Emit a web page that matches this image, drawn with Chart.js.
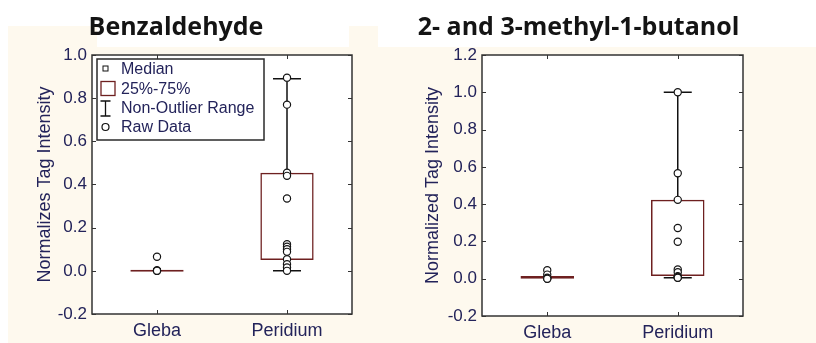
<!DOCTYPE html>
<html>
<head>
<meta charset="utf-8">
<script src="https://cdn.jsdelivr.net/npm/chart.js"></script>
<style>
  body { margin: 0; background: #fff; width: 816px; height: 343px; overflow: hidden; position: relative; }
  .cream { position: absolute; background: #fef9ee; }
  canvas { position: absolute; top: 0; }
</style>
</head>
<body>
<div class="cream" style="left:8px;top:47px;width:808px;height:296px"></div>
<div class="cream" style="left:8px;top:26px;width:89px;height:21px"></div>
<div class="cream" style="left:349px;top:26px;width:29px;height:21px"></div>
<canvas id="benzChart" width="444" height="343" style="left:0"></canvas>
<canvas id="butanolChart" width="402" height="343" style="left:414px"></canvas>
<script>
const categories = ['Gleba', 'Peridium'];

// Benzaldehyde
const benzQ1 = [0, 0.05];
const benzQ3 = [0, 0.455];
const benzMedian = [0, 0.11];
const benzMin = [0, 0];
const benzMax = [0, 0.89];
const benzGleba = [0.065, 0.003, 0, 0, 0];
const benzPeridium = [0.895, 0.77, 0.455, 0.44, 0.335, 0.123, 0.112, 0.1, 0.088, 0.054, 0.031, 0.016, 0];
const benzTicks = [-0.2, 0, 0.2, 0.4, 0.6, 0.8, 1.0];

// 2- and 3-methyl-1-butanol
const butQ1 = [0, 0.014];
const butQ3 = [0.014, 0.423];
const butMedian = [0.005, 0.035];
const butMin = [0, 0.005];
const butMax = [0.014, 1.0];
const butGleba = [0.046, 0.022, 0.005, 0, 0];
const butPeridium = [1.0, 0.566, 0.423, 0.272, 0.198, 0.05, 0.035, 0.014, 0.01, 0.005, 0.005];
const butTicks = [-0.2, 0, 0.2, 0.4, 0.6, 0.8, 1.0, 1.2];

const TEXT = '#23235a';
const BOX = '#6e2020';
const FRAME = '#333';

// white plot area, frame and inward tick marks
const framePlugin = {
  id: 'frame',
  beforeDraw(chart) {
    const a = chart.chartArea;
    const ctx = chart.ctx;
    ctx.save();
    ctx.fillStyle = '#fff';
    ctx.fillRect(a.left, a.top, a.right - a.left, a.bottom - a.top);
    ctx.restore();
  },
  afterDraw(chart) {
    const a = chart.chartArea;
    const ctx = chart.ctx;
    const xs = chart.scales.x, ys = chart.scales.y;
    ctx.save();
    ctx.strokeStyle = FRAME;
    ctx.lineWidth = 1.5;
    ctx.strokeRect(a.left, a.top, a.right - a.left, a.bottom - a.top);
    ctx.lineWidth = 1;
    ctx.beginPath();
    ys.ticks.forEach(t => {
      const y = Math.round(ys.getPixelForValue(t.value)) + 0.5;
      ctx.moveTo(a.left, y); ctx.lineTo(a.left + 4, y);
      ctx.moveTo(a.right, y); ctx.lineTo(a.right - 4, y);
    });
    categories.forEach((c, i) => {
      const x = Math.round(xs.getPixelForValue(i)) + 0.5;
      ctx.moveTo(x, a.top); ctx.lineTo(x, a.top + 4);
      ctx.moveTo(x, a.bottom); ctx.lineTo(x, a.bottom - 4);
    });
    ctx.stroke();
    ctx.restore();
  }
};

// whiskers for the non-outlier range
const whiskerPlugin = {
  id: 'whiskers',
  beforeDatasetsDraw(chart, args, opts) {
    const ctx = chart.ctx;
    const xs = chart.scales.x, ys = chart.scales.y;
    ctx.save();
    ctx.strokeStyle = '#111';
    ctx.lineWidth = 1.5;
    categories.forEach((c, i) => {
      const x = xs.getPixelForValue(i);
      const segs = [];
      if (opts.max[i] > opts.q3[i]) segs.push([opts.q3[i], opts.max[i]]);
      if (opts.min[i] < opts.q1[i]) segs.push([opts.q1[i], opts.min[i]]);
      segs.forEach(([from, to]) => {
        const y0 = ys.getPixelForValue(from), y1 = ys.getPixelForValue(to);
        ctx.beginPath();
        ctx.moveTo(x, y0); ctx.lineTo(x, y1);
        ctx.moveTo(x - 14, y1); ctx.lineTo(x + 14, y1);
        ctx.stroke();
      });
    });
    ctx.restore();
  }
};

const legendPlugin = {
  id: 'boxLegend',
  afterDraw(chart) {
    const a = chart.chartArea;
    const ctx = chart.ctx;
    const left = a.left + 5, top = a.top + 4;
    ctx.save();
    ctx.fillStyle = '#fff';
    ctx.fillRect(left, top, 167, 81);
    ctx.strokeStyle = '#2a2a2a';
    ctx.lineWidth = 1.5;
    ctx.strokeRect(left, top, 167, 81);
    const sx = left + 8.5;
    const rows = [top + 9.5, top + 29.5, top + 49, top + 68];
    // median square
    ctx.lineWidth = 1;
    ctx.strokeStyle = '#111';
    ctx.strokeRect(sx - 2.5, rows[0] - 2.5, 5, 5);
    // box
    ctx.strokeStyle = BOX;
    ctx.lineWidth = 1.3;
    ctx.strokeRect(sx - 4.5, rows[1] - 7, 14, 14);
    // whisker
    ctx.strokeStyle = '#111';
    ctx.lineWidth = 1.3;
    ctx.beginPath();
    ctx.moveTo(sx, rows[2] - 7); ctx.lineTo(sx, rows[2] + 8);
    ctx.moveTo(sx - 5, rows[2] - 7); ctx.lineTo(sx + 5, rows[2] - 7);
    ctx.moveTo(sx - 5, rows[2] + 8); ctx.lineTo(sx + 5, rows[2] + 8);
    ctx.stroke();
    // raw data circle
    ctx.lineWidth = 1.2;
    ctx.beginPath();
    ctx.arc(sx, rows[3], 3.5, 0, Math.PI * 2);
    ctx.stroke();
    ctx.fillStyle = TEXT;
    ctx.font = '16px "Liberation Sans", Arial, sans-serif';
    ctx.textBaseline = 'middle';
    ['Median', '25%-75%', 'Non-Outlier Range', 'Raw Data'].forEach((t, i) => {
      ctx.fillText(t, left + 24, rows[i] + 1);
    });
    ctx.restore();
  }
};

function pointsFor(gleba, peridium) {
  return gleba.map(v => ({ x: 'Gleba', y: v }))
    .concat(peridium.map(v => ({ x: 'Peridium', y: v })));
}

function makeChart(id, cfg) {
  const font = { family: '"Liberation Sans", Arial, sans-serif', size: 17 };
  return new Chart(document.getElementById(id), {
    type: 'bar',
    data: {
      labels: categories,
      datasets: [
        {
          type: 'line',
          label: 'Raw Data',
          data: pointsFor(cfg.gleba, cfg.peridium),
          showLine: false,
          pointRadius: 3.6,
          pointBorderWidth: 1.2,
          pointBorderColor: '#151515',
          pointBackgroundColor: '#fff',
          order: 0
        },
        {
          type: 'line',
          label: 'Median',
          data: cfg.median,
          showLine: false,
          pointStyle: 'rect',
          pointRadius: 2.6,
          pointBorderWidth: 1,
          pointBorderColor: '#111',
          pointBackgroundColor: '#fff',
          order: 1
        },
        {
          label: '25%-75%',
          data: cfg.q1.map((v, i) => [v, cfg.q3[i]]),
          backgroundColor: 'rgba(255,255,255,0)',
          borderColor: BOX,
          borderWidth: 1.5,
          borderSkipped: false,
          minBarLength: 2,
          barPercentage: 0.41,
          categoryPercentage: 1,
          order: 2
        }
      ]
    },
    options: {
      responsive: false,
      animation: false,
      events: [],
      layout: { padding: { left: 0, right: cfg.padRight, top: 0, bottom: 0 } },
      plugins: {
        legend: { display: false },
        tooltip: { enabled: false },
        title: {
          display: true,
          text: cfg.title,
          color: '#141414',
          font: { family: '"Open Sans", sans-serif', size: 25, weight: 'bold' },
          padding: { top: 13, bottom: 12 }
        },
        whiskers: { q1: cfg.q1, q3: cfg.q3, min: cfg.min, max: cfg.max }
      },
      scales: {
        x: {
          grid: { display: false, drawTicks: false },
          border: { display: false },
          ticks: { color: TEXT, font: { family: font.family, size: 18 }, padding: 6 },
          afterFit(s) { s.height = cfg.xHeight; }
        },
        y: {
          min: cfg.ticks[0],
          max: cfg.ticks[cfg.ticks.length - 1],
          afterBuildTicks(s) { s.ticks = cfg.ticks.map(v => ({ value: v })); },
          grid: { display: false, drawTicks: false },
          border: { display: false },
          ticks: { color: TEXT, font, padding: 5, callback: v => v.toFixed(1) },
          title: {
            display: true,
            text: cfg.yTitle,
            color: TEXT,
            font: { family: font.family, size: 18 },
            padding: { top: cfg.titlePad, bottom: 0 }
          },
          afterFit(s) { s.width = cfg.yWidth; }
        }
      }
    },
    plugins: cfg.plugins
  });
}

makeChart('benzChart', {
  title: 'Benzaldehyde',
  yTitle: 'Normalizes Tag Intensity',
  q1: benzQ1, q3: benzQ3, median: benzMedian, min: benzMin, max: benzMax,
  gleba: benzGleba, peridium: benzPeridium, ticks: benzTicks,
  yWidth: 92, padRight: 92, xHeight: 29, titlePad: 34,
  plugins: [framePlugin, whiskerPlugin, legendPlugin]
});

makeChart('butanolChart', {
  title: '2- and 3-methyl-1-butanol',
  yTitle: 'Normalized Tag Intensity',
  q1: butQ1, q3: butQ3, median: butMedian, min: butMin, max: butMax,
  gleba: butGleba, peridium: butPeridium, ticks: butTicks,
  yWidth: 68, padRight: 73, xHeight: 27, titlePad: 8,
  plugins: [framePlugin, whiskerPlugin]
});
</script>
</body>
</html>
